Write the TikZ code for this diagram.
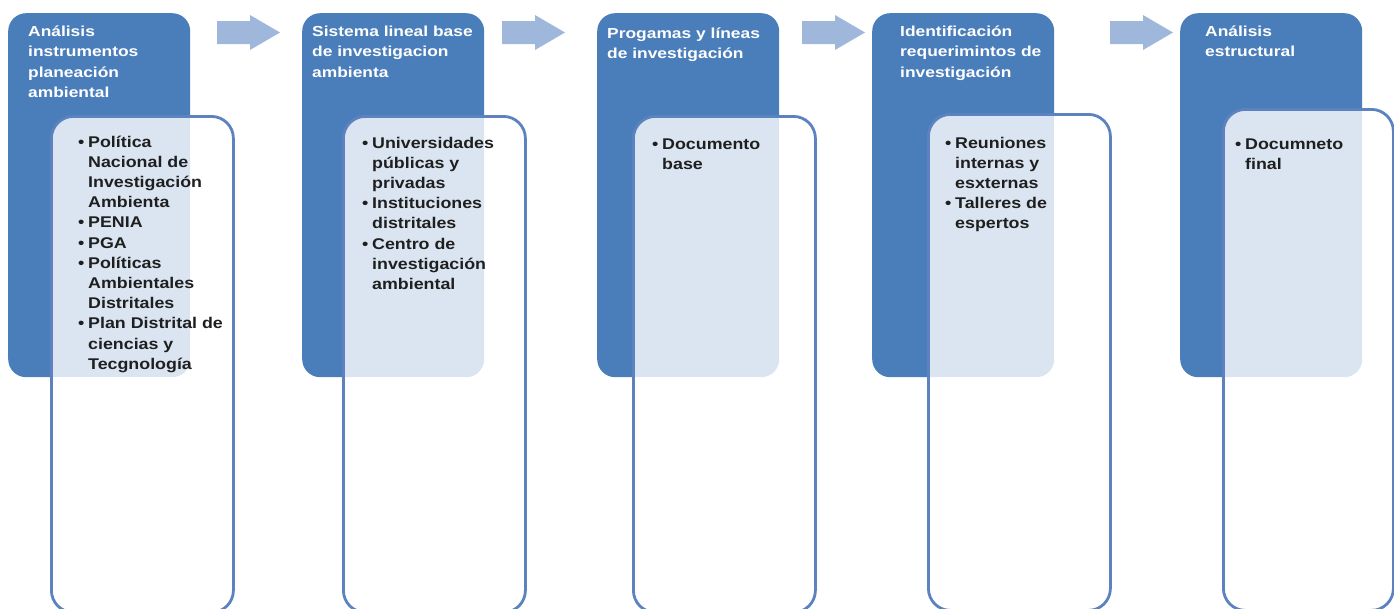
\documentclass[tikz,border=0pt]{standalone}
\usepackage{fontspec}
\setmainfont{Liberation Sans}
\newfontfamily\cabfont[FakeStretch=1.2]{Liberation Sans}
\newfontfamily\listfont[FakeStretch=1.15]{Liberation Sans}
\definecolor{azul}{RGB}{74,126,187}
\definecolor{borde}{RGB}{92,130,192}
\definecolor{flechac}{RGB}{160,183,220}
\newcommand{\bul}{\makebox[10pt][l]{\textbullet}}
\newcommand{\sig}{\makebox[10pt]{}}
\tikzset{
  cabeza/.style={fill=azul, rounded corners=18pt, anchor=north west, minimum width=182pt, minimum height=364pt, inner sep=0pt},
  caja/.style={draw=borde, line width=2.8pt, fill=white, fill opacity=0.8, rounded corners=22pt, anchor=north west, minimum width=182pt, minimum height=496pt, inner sep=0pt},
  titulo/.style={text=white, font=\cabfont\bfseries\fontsize{14.5}{20.5}\selectfont, align=left, anchor=north west, inner sep=0pt},
  lista/.style={text=black!88, font=\listfont\bfseries\fontsize{15.5}{20.2}\selectfont, align=left, anchor=north west, inner sep=0pt},
  flecha/.style={fill=flechac}
}
\begin{document}
\begin{tikzpicture}[x=1pt, y=-1pt]
  \useasboundingbox (0,0) rectangle (1394,608);
  \clip (0,0) rectangle (1394,608);

  \node[cabeza] (c1) at (8,13) {};
  \node[cabeza] (c2) at (302,13) {};
  \node[cabeza] (c3) at (597,13) {};
  \node[cabeza] (c4) at (872,13) {};
  \node[cabeza] (c5) at (1180,13) {};

  \node[titulo] (t1) at (28,21.6) {\strut Análisis\\instrumentos\\planeación\\ambiental};
  \node[titulo] (t2) at (312,21.6) {\strut Sistema lineal base\\de investigacion\\ambienta};
  \node[titulo] (t3) at (607,23.5) {\strut Progamas y líneas\\de investigación};
  \node[titulo] (t4) at (900,21.6) {\strut Identificación\\requerimintos de\\investigación};
  \node[titulo] (t5) at (1205,21.6) {\strut Análisis\\estructural};

  \node[caja] (b1) at (50,115) {};
  \node[caja] (b2) at (342,115) {};
  \node[caja] (b3) at (632,115) {};
  \node[caja] (b4) at (927,113) {};
  \node[caja, minimum width=170pt, minimum height=501pt] (b5) at (1222,108) {};

  \node[lista] (l1) at (78,132.8) {\strut\bul Política\\\sig Nacional de\\\sig Investigación\\\sig Ambienta\\\bul PENIA\\\bul PGA\\\bul Políticas\\\sig Ambientales\\\sig Distritales\\\bul Plan Distrital de\\\sig ciencias y\\\sig Tecgnología};
  \node[lista] (l2) at (362,133.8) {\strut\bul Universidades\\\sig públicas y\\\sig privadas\\\bul Instituciones\\\sig distritales\\\bul Centro de\\\sig investigación\\\sig ambiental};
  \node[lista] (l3) at (652,134.8) {\strut\bul Documento\\\sig base};
  \node[lista] (l4) at (945,133.8) {\strut\bul Reuniones\\\sig internas y\\\sig esxternas\\\bul Talleres de\\\sig espertos};
  \node[lista] (l5) at (1235,134.8) {\strut\bul Documneto\\\sig final};

  \foreach \x in {217,502,802,1110}
    \fill[flecha] (\x,21) -- ++(33,0) -- ++(0,-6) -- ++(30,17.5) -- ++(-30,17.5) -- ++(0,-6) -- ++(-33,0) -- cycle;
\end{tikzpicture}
\end{document}
